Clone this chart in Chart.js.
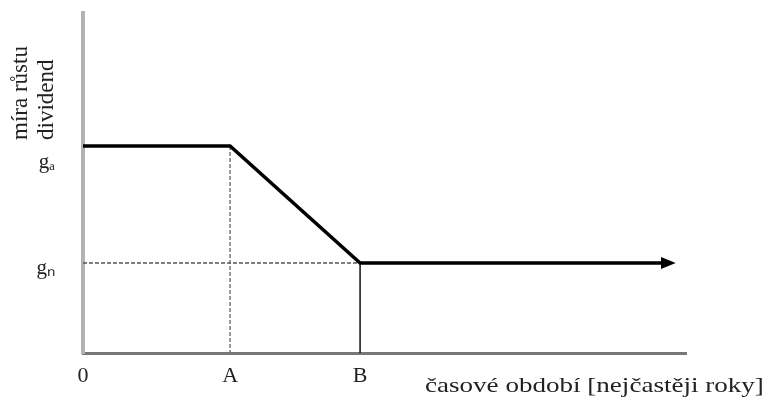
<!DOCTYPE html>
<html>
<head>
<meta charset="utf-8">
<script src="https://cdn.jsdelivr.net/npm/chart.js@4/dist/chart.umd.min.js"></script>
<style>
  html, body { margin: 0; padding: 0; background: #fff; }
</style>
</head>
<body>
<canvas id="myChart" width="764" height="398"></canvas>
<script>
// x positions (time): 0, A, B and the arrow tip
var xTickValues = [0, 1, 1.884];
var xTickLabels = ['0', 'A', 'B'];
var xMax = 4.1;

// growth levels g_a (high) and g_n (normal)
var yTickValues = [0.9, 2.07];
var yTickLabels = ['gₙ', ['', 'gₐ']];
var yMax = 3.4;

// the dividend growth path
var pathX = [0, 1, 1.884, 3.93];
var pathY = [2.07, 2.07, 0.9, 0.9];
var arrowTipX = 4.03;

// guide lines
var guideGnX = [0, 1.884];
var guideGnY = [0.9, 0.9];
var guideAX = [1, 1];
var guideAY = [2.07, 0];
var guideBX = [1.884, 1.884];
var guideBY = [0.9, 0];

function pts(xs, ys) {
    return xs.map(function (x, i) { return { x: x, y: ys[i] }; });
}

const serif = "'Liberation Serif', 'Times New Roman', serif";

const extras = {
    id: 'extras',
    afterDatasetsDraw(chart) {
        const ctx = chart.ctx;
        const xs = chart.scales.x, ys = chart.scales.y;
        // arrow head
        const baseX = xs.getPixelForValue(pathX[pathX.length - 1]);
        const tipX = xs.getPixelForValue(arrowTipX);
        const yy = ys.getPixelForValue(pathY[pathY.length - 1]);
        ctx.save();
        ctx.fillStyle = '#000';
        ctx.beginPath();
        ctx.moveTo(tipX, yy);
        ctx.lineTo(baseX, yy - 6);
        ctx.lineTo(baseX, yy + 6);
        ctx.closePath();
        ctx.fill();

        // axis titles
        ctx.fillStyle = '#222';
        ctx.font = '23px ' + serif;
        ctx.textAlign = 'left';
        ctx.textBaseline = 'alphabetic';
        ctx.save();
        ctx.translate(27, 140);
        ctx.rotate(-Math.PI / 2);
        ctx.fillText('míra růstu', 0, 0);
        ctx.restore();
        ctx.save();
        ctx.translate(53, 140);
        ctx.rotate(-Math.PI / 2);
        ctx.fillText('dividend', 0, 0);
        ctx.restore();

        ctx.save();
        ctx.font = '22px ' + serif;
        ctx.translate(425, 392);
        ctx.scale(1.23, 1);
        ctx.fillText('časové období [nejčastěji roky]', 0, 0);
        ctx.restore();
        ctx.restore();
    }
};

const data = {
    datasets: [{
        label: 'path',
        data: pts(pathX, pathY),
        borderColor: '#000',
        borderWidth: 3.5,
        pointRadius: 0,
        showLine: true,
        fill: false
    }, {
        label: 'gn guide',
        data: pts(guideGnX, guideGnY),
        borderColor: '#555',
        borderWidth: 1.5,
        borderDash: [4, 2],
        pointRadius: 0,
        showLine: true
    }, {
        label: 'A guide',
        data: pts(guideAX, guideAY),
        borderColor: '#777',
        borderWidth: 1.5,
        borderDash: [4, 2],
        pointRadius: 0,
        showLine: true
    }, {
        label: 'B guide',
        data: pts(guideBX, guideBY),
        borderColor: '#111',
        borderWidth: 1.5,
        pointRadius: 0,
        showLine: true
    }]
};

const config = {
    type: 'scatter',
    data: data,
    options: {
        responsive: false,
        animation: false,
        layout: { padding: { top: 13, right: 78, left: 0, bottom: 0 } },
        plugins: { legend: { display: false }, tooltip: { enabled: false } },
        scales: {
            x: {
                type: 'linear',
                min: 0,
                max: xMax,
                grid: { display: false, drawTicks: false },
                border: { display: true, color: '#777', width: 3 },
                afterBuildTicks: function (scale) {
                    scale.ticks = xTickValues.map(function (v) { return { value: v }; });
                },
                afterFit: function (scale) {
                    scale.height = 45;
                    scale.paddingLeft = 0;
                    scale.paddingRight = 0;
                },
                ticks: {
                    autoSkip: false,
                    maxRotation: 0,
                    padding: 10,
                    color: '#222',
                    font: { family: serif, size: 22 },
                    callback: function (v, i) { return xTickLabels[i]; }
                }
            },
            y: {
                type: 'linear',
                min: 0,
                max: yMax,
                grid: { display: false, drawTicks: false },
                border: { display: true, color: '#b3b3b3', width: 4 },
                afterBuildTicks: function (scale) {
                    scale.ticks = yTickValues.map(function (v) { return { value: v }; });
                },
                afterFit: function (scale) {
                    scale.width = 83;
                    scale.paddingTop = 0;
                    scale.paddingBottom = 0;
                },
                ticks: {
                    autoSkip: false,
                    padding: 28,
                    labelOffset: 5,
                    color: '#222',
                    font: { family: serif, size: 21, lineHeight: 1.1 },
                    callback: function (v, i) { return yTickLabels[i]; }
                }
            }
        }
    },
    plugins: [extras]
};

const myChart = new Chart(document.getElementById('myChart'), config);
</script>
</body>
</html>
